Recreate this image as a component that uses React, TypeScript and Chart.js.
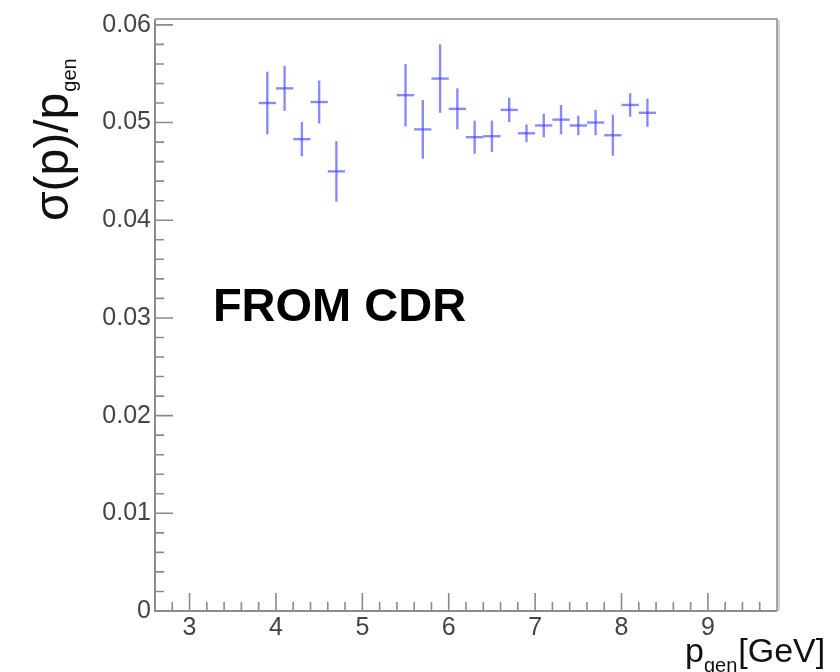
import { useEffect, useRef } from "react";
import { Chart, registerables } from "chart.js";

Chart.register(...registerables);

// Generated momentum bin centres [GeV]
const momentum = [3.9, 4.1, 4.3, 4.5, 4.7, 5.5, 5.7, 5.9, 6.1, 6.3, 6.5, 6.7, 6.9, 7.1, 7.3, 7.5, 7.7, 7.9, 8.1, 8.3];
// Half width of each momentum bin [GeV]
const binHalfWidth = 0.1;
// Relative momentum resolution sigma(p)/p_gen per bin
const resolution = [
  0.0520, 0.0535, 0.0483, 0.0521, 0.0450, 0.0528, 0.0493, 0.0545, 0.0514, 0.0485,
  0.0486, 0.0513, 0.0489, 0.0497, 0.0503, 0.0497, 0.0500, 0.0487, 0.0518, 0.0510,
];
// Statistical uncertainty on the resolution
const resolutionErr = [
  0.0032, 0.0023, 0.00175, 0.0022, 0.0031, 0.0032, 0.0030, 0.0035, 0.0021, 0.0017,
  0.0016, 0.00125, 0.0009, 0.0012, 0.0015, 0.0010, 0.0013, 0.0021, 0.0012, 0.00145,
];

// Axis ranges and labelled ticks
const xRange = [2.6, 9.8];
const yRange = [0, 0.0606];
const xTickValues = [3, 4, 5, 6, 7, 8, 9];
const yTickValues = [0, 0.01, 0.02, 0.03, 0.04, 0.05, 0.06];
const xMinorStep = 0.2;
const yMinorStep = 0.002;

const FONT = "'Liberation Sans', Arial, Helvetica, sans-serif";
const FRAME_COLOR = "#8a8a8a";
const MARKER_COLOR = "rgba(60, 60, 255, 0.6)";
const LABEL_COLOR = "#444";

// Histogram-style frame with inward major/minor ticks on the x and y axes
const frameTicks = {
  id: "frameTicks",
  beforeDatasetsDraw(chart: any) {
    const { ctx, chartArea: a, scales } = chart;
    const xs = scales.x;
    const ys = scales.y;
    ctx.save();
    ctx.strokeStyle = FRAME_COLOR;
    ctx.lineWidth = 1.6;

    const major = 18;
    const minor = 9;
    ctx.beginPath();
    // x axis ticks (pointing up into the frame)
    const nx = Math.round((xRange[1] - xRange[0]) / xMinorStep);
    for (let k = 1; k < nx; k++) {
      const v = xRange[0] + k * xMinorStep;
      const isMajor = xTickValues.some((t) => Math.abs(t - v) < 1e-6);
      const px = xs.getPixelForValue(v);
      ctx.moveTo(px, a.bottom);
      ctx.lineTo(px, a.bottom - (isMajor ? major : minor));
    }
    // y axis ticks (pointing right into the frame)
    const ny = Math.floor((yRange[1] - yRange[0]) / yMinorStep + 1e-6);
    for (let k = 1; k <= ny; k++) {
      const v = yRange[0] + k * yMinorStep;
      const isMajor = yTickValues.some((t) => Math.abs(t - v) < 1e-7);
      const py = ys.getPixelForValue(v);
      ctx.moveTo(a.left, py);
      ctx.lineTo(a.left + (isMajor ? major : minor), py);
    }
    ctx.stroke();

    // frame: axes on left/bottom, shaded edge on top/right
    ctx.lineWidth = 2;
    ctx.strokeStyle = "#8c8c8c";
    ctx.beginPath();
    ctx.moveTo(a.left, a.top);
    ctx.lineTo(a.left, a.bottom);
    ctx.lineTo(a.right, a.bottom);
    ctx.stroke();
    ctx.strokeStyle = "#a6a6a6";
    ctx.beginPath();
    ctx.moveTo(a.left, a.top);
    ctx.lineTo(a.right, a.top);
    ctx.lineTo(a.right, a.bottom);
    ctx.stroke();
    ctx.strokeStyle = "rgba(160,160,160,0.45)";
    ctx.beginPath();
    ctx.moveTo(a.right + 2, a.top + 1);
    ctx.lineTo(a.right + 2, a.bottom);
    ctx.stroke();
    ctx.restore();
  },
};

// Error-bar crosses: horizontal bar = bin width, vertical bar = uncertainty
const errorBars = {
  id: "errorBars",
  afterDatasetsDraw(chart: any) {
    const { ctx, scales } = chart;
    const xs = scales.x;
    const ys = scales.y;
    ctx.save();
    ctx.strokeStyle = MARKER_COLOR;
    ctx.lineWidth = 2.4;
    momentum.forEach((m, i) => {
      const y = resolution[i];
      const e = resolutionErr[i];
      ctx.beginPath();
      ctx.moveTo(xs.getPixelForValue(m), ys.getPixelForValue(y - e));
      ctx.lineTo(xs.getPixelForValue(m), ys.getPixelForValue(y + e));
      ctx.stroke();
      ctx.beginPath();
      ctx.moveTo(xs.getPixelForValue(m - binHalfWidth), ys.getPixelForValue(y));
      ctx.lineTo(xs.getPixelForValue(m + binHalfWidth), ys.getPixelForValue(y));
      ctx.stroke();
    });
    ctx.restore();
  },
};

// Axis titles with subscripts, and the source note
const titles = {
  id: "titles",
  afterDraw(chart: any) {
    const { ctx, chartArea: a, scales } = chart;
    ctx.save();
    ctx.fillStyle = "#111";
    ctx.textBaseline = "alphabetic";
    ctx.textAlign = "left";

    // y title, rotated
    ctx.save();
    ctx.translate(a.left - 87, a.top + 202);
    ctx.rotate(-Math.PI / 2);
    ctx.font = `48px ${FONT}`;
    const main = "σ(p)/p";
    ctx.fillText(main, 0, 0);
    const w = ctx.measureText(main).width;
    ctx.font = `20px ${FONT}`;
    ctx.fillText("gen", w + 1, 8);
    ctx.restore();

    // x title
    let x = a.right - 92;
    const base = a.bottom + 51;
    ctx.font = `34px ${FONT}`;
    ctx.fillText("p", x, base);
    x += ctx.measureText("p").width;
    ctx.font = `20px ${FONT}`;
    ctx.fillText("gen", x, base + 10);
    x += ctx.measureText("gen").width + 1;
    ctx.font = `34px ${FONT}`;
    ctx.fillText("[GeV]", x, base);

    // note placed in data coordinates
    ctx.fillStyle = "#000";
    ctx.font = `bold 47px ${FONT}`;
    ctx.fillText("FROM CDR", scales.x.getPixelForValue(3.27), scales.y.getPixelForValue(0.0297));
    ctx.restore();
  },
};

export default function App() {
  const canvasRef = useRef<HTMLCanvasElement | null>(null);

  useEffect(() => {
    const canvas = canvasRef.current;
    if (!canvas) return;
    const chart = new Chart(canvas, {
      type: "scatter",
      data: {
        datasets: [
          {
            label: "resolution",
            data: momentum.map((m, i) => ({ x: m, y: resolution[i] })),
            pointRadius: 0,
            showLine: false,
          },
        ],
      },
      options: {
        responsive: false,
        animation: false,
        devicePixelRatio: 1,
        layout: { padding: { left: 0, top: 11, right: 63, bottom: 0 } },
        plugins: {
          legend: { display: false },
          tooltip: { enabled: false },
          title: { display: false },
        },
        scales: {
          x: {
            type: "linear",
            min: xRange[0],
            max: xRange[1],
            grid: { display: false, drawTicks: false },
            border: { display: false },
            afterBuildTicks: (scale: any) => {
              scale.ticks = xTickValues.map((v) => ({ value: v }));
            },
            afterFit: (scale: any) => {
              scale.height = 61;
            },
            ticks: {
              padding: 2,
              color: LABEL_COLOR,
              font: { family: FONT, size: 25 },
              maxRotation: 0,
              autoSkip: false,
              callback: (v: any) => String(v),
            },
          },
          y: {
            type: "linear",
            min: yRange[0],
            max: yRange[1],
            grid: { display: false, drawTicks: false },
            border: { display: false },
            afterBuildTicks: (scale: any) => {
              scale.ticks = yTickValues.map((v) => ({ value: v }));
            },
            afterFit: (scale: any) => {
              scale.width = 155;
            },
            ticks: {
              padding: 4,
              color: LABEL_COLOR,
              font: { family: FONT, size: 25 },
              autoSkip: false,
              callback: (v: any) => (v === 0 ? "0" : Number(v).toFixed(2)),
            },
          },
        },
      },
      plugins: [frameTicks, errorBars, titles],
    });
    return () => chart.destroy();
  }, []);

  return (
    <div style={{ position: "fixed", left: 0, top: 0, width: 840, height: 672, background: "#fff" }}>
      <canvas ref={canvasRef} width={840} height={672} style={{ display: "block", width: 840, height: 672 }} />
    </div>
  );
}
